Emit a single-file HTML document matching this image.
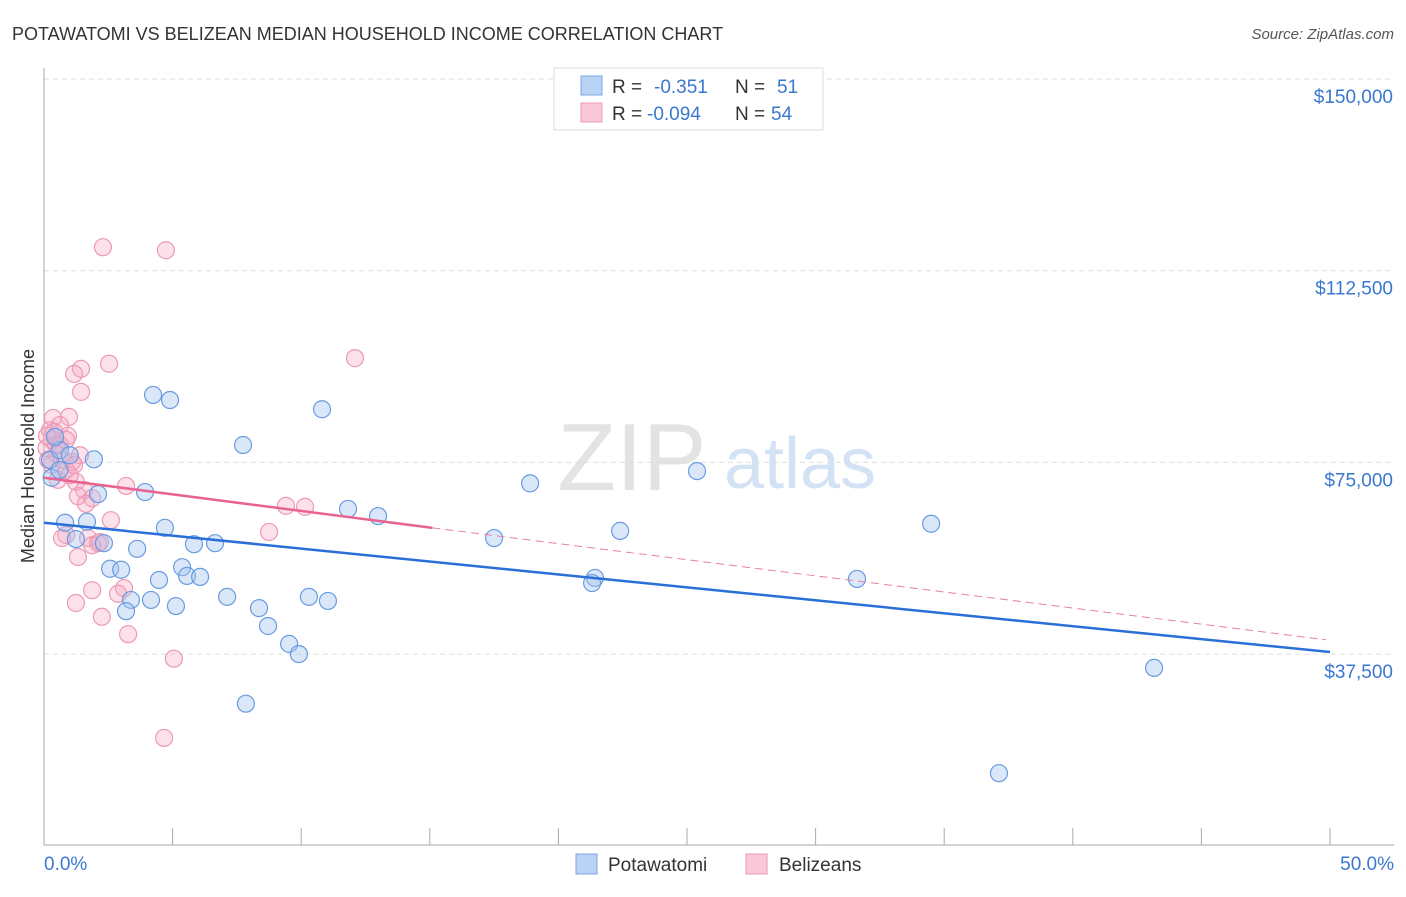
<!DOCTYPE html>
<html><head><meta charset="utf-8"><style>
body{margin:0;background:#fff;font-family:"Liberation Sans",sans-serif}
svg text{font-family:"Liberation Sans",sans-serif}
</style></head><body>
<svg width="1406" height="892" id="chart">
<text x="12" y="40" font-size="18" fill="#333">POTAWATOMI VS BELIZEAN MEDIAN HOUSEHOLD INCOME CORRELATION CHART</text>
<text x="1394" y="39" font-size="15" fill="#555" font-style="italic" text-anchor="end">Source: ZipAtlas.com</text>
<text x="34" y="456" font-size="18" fill="#333" transform="rotate(-90 34 456)" text-anchor="middle">Median Household Income</text>
<g>
<text x="632" y="490" font-size="96" fill="#ddd" font-family="Liberation Serif" text-anchor="middle" opacity="0.8">ZIP</text>
<text x="800" y="488" font-size="72" fill="#c9dcf2" text-anchor="middle" opacity="0.8">atlas</text>
</g>
<g id="grid"></g><g id="axes"></g><g id="marks"></g>
<g>
<rect x="554" y="68" width="269" height="62" fill="#fff" stroke="#ddd"/>
<rect x="581" y="76" width="21" height="19" fill="#b8d3f5" stroke="#7aa6e0"/>
<text x="612" y="93" font-size="19" fill="#333">R = </text><text x="654" y="93" font-size="19" fill="#3a78d0">-0.351</text>
<text x="735" y="93" font-size="19" fill="#333">N = </text><text x="777" y="93" font-size="19" fill="#3a78d0">51</text>
<rect x="581" y="103" width="21" height="19" fill="#fbc8d8" stroke="#eb98b5"/>
<text x="612" y="120" font-size="19" fill="#333">R = </text><text x="647" y="120" font-size="19" fill="#3a78d0">-0.094</text>
<text x="735" y="120" font-size="19" fill="#333">N = </text><text x="771" y="120" font-size="19" fill="#3a78d0">54</text>
</g>
<g>
<rect x="576" y="854" width="21" height="20" fill="#b8d3f5" stroke="#7aa6e0"/>
<text x="608" y="871" font-size="19" fill="#333">Potawatomi</text>
<rect x="746" y="854" width="21" height="20" fill="#fbc8d8" stroke="#eb98b5"/>
<text x="779" y="871" font-size="19" fill="#333">Belizeans</text>
</g>
</svg>
<script>
const yTicks=[150000,112500,75000,37500];
const yTickLabels=["$150,000","$112,500","$75,000","$37,500"];
const xTickLabels=["0.0%","50.0%"];
const blueX=[4.24,4.90,10.81,7.74,1.94,25.39,18.9,3.93,2.10,11.82,12.99,34.49,0.82,1.67,4.70,22.40,17.50,1.24,2.33,5.83,6.65,3.62,5.37,2.57,3.0,5.56,6.07,4.47,21.42,21.31,31.61,3.38,4.16,7.12,10.3,11.04,5.13,3.19,8.36,8.71,9.53,9.91,43.16,7.85,37.13,0.23,0.62,0.43,1.0,0.3,0.6];
const blueY=[88200,87200,85400,78400,75600,73300,70900,69200,68800,65900,64500,63000,63200,63400,62200,61600,60200,60000,59200,59000,59200,58100,54500,54200,54000,52800,52600,52000,52400,51400,52200,48100,48100,48700,48700,47900,46900,45900,46500,43000,39500,37500,34800,27800,14200,75500,77400,80000,76400,72000,73500];
const pinkX=[2.29,4.74,12.09,2.53,1.44,1.17,1.44,0.97,0.35,0.23,0.93,0.31,0.62,0.1,0.5,1.09,0.3,0.86,0.54,1.24,3.19,1.56,1.32,1.87,1.63,9.41,10.15,2.6,8.75,0.86,0.7,1.71,2.1,1.87,1.32,3.11,1.87,2.88,1.24,2.25,3.27,5.05,4.67,0.62,0.39,0.86,0.16,0.7,1.4,1.0,0.47,2.18,0.12,1.17];
const pinkY=[117100,116500,95400,94300,93300,92300,88800,83900,83700,81300,80200,79400,78400,77800,76500,75100,74500,73500,71600,71200,70400,69600,68400,68000,66900,66500,66300,63700,61400,60800,60200,60200,59200,58800,56500,50400,50000,49300,47500,44800,41400,36600,21100,82300,81000,79400,75500,75500,76400,72500,78400,59400,80200,74500];
const blueTrendX=[0,50], blueTrendY=[63200,37900];
const pinkTrendX=[0,15.1,49.85], pinkTrendY=[72000,62200,40300];

const X0=44,X1=1330,Y150=79,PX=191.7;
const sx=v=>X0+(X1-X0)*v/50;
const sy=v=>Y150+(150000-v)/37500*PX;
const NS="http://www.w3.org/2000/svg";
function mk(tag,attrs,parent){const e=document.createElementNS(NS,tag);for(const k in attrs)e.setAttribute(k,attrs[k]);document.getElementById(parent).appendChild(e);return e;}
yTicks.forEach((t,i)=>{
 const l=mk('line',{x1:X0,x2:1394,y1:sy(t),y2:sy(t),stroke:'#ddd','stroke-dasharray':'5,4'},'grid');
 
 
 const tx=mk('text',{x:1393,y:sy(t)+24,'font-size':19,fill:'#3a78d0','text-anchor':'end'},'grid');
 tx.textContent=yTickLabels[i];
 
 
});
const ax=mk('line',{x1:X0,x2:X0,y1:68,y2:845,stroke:'#aaa'},'axes');


const bx=mk('line',{x1:X0,x2:1394,y1:845,y2:845,stroke:'#aaa'},'axes');


for(let i=0;i<=10;i++){
 const t=mk('line',{x1:sx(i*5),x2:sx(i*5),y1:828,y2:845,stroke:'#aaa'},'axes');
 
 
}
const xl0=mk('text',{x:44,y:870,'font-size':19,fill:'#3a78d0'},'axes');xl0.textContent=xTickLabels[0];


const xl1=mk('text',{x:1394,y:870,'font-size':19,fill:'#3a78d0','text-anchor':'end'},'axes');xl1.textContent=xTickLabels[1];


pinkX.forEach((x,i)=>{
 const c=mk('circle',{cx:sx(x),cy:sy(pinkY[i]),r:8.5,fill:'rgba(246,168,194,0.35)',stroke:'#ec9ab6','stroke-width':1.2},'marks');
 
 
});
blueX.forEach((x,i)=>{
 const c=mk('circle',{cx:sx(x),cy:sy(blueY[i]),r:8.5,fill:'rgba(160,196,240,0.4)',stroke:'#6a9be0','stroke-width':1.2},'marks');
 
 
});
const bt=mk('line',{x1:sx(blueTrendX[0]),y1:sy(blueTrendY[0]),x2:sx(blueTrendX[1]),y2:sy(blueTrendY[1]),stroke:'#2a6fd8','stroke-width':2.5},'marks');


const pt=mk('line',{x1:sx(pinkTrendX[0]),y1:sy(pinkTrendY[0]),x2:sx(pinkTrendX[1]),y2:sy(pinkTrendY[1]),stroke:'#e8648f','stroke-width':2.5},'marks');


const pd=mk('line',{x1:sx(pinkTrendX[1]),y1:sy(pinkTrendY[1]),x2:sx(pinkTrendX[2]),y2:sy(pinkTrendY[2]),stroke:'#e8809f','stroke-width':1,'stroke-dasharray':'8,5'},'marks');


</script>
</body></html>
